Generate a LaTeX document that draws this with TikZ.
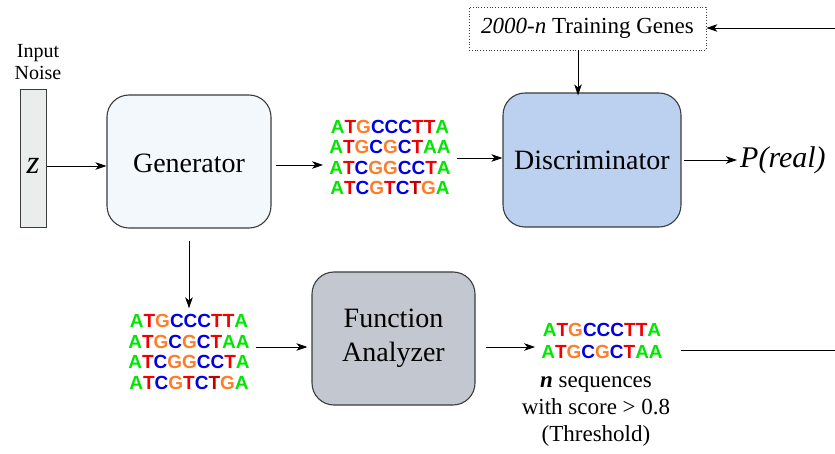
\documentclass[tikz,border=0pt]{standalone}
\usepackage{fontspec}
\setmainfont{Liberation Serif}
\newfontfamily\seqfont{Liberation Sans}
\usetikzlibrary{arrows.meta}
\definecolor{cA}{RGB}{0,230,0}
\definecolor{cT}{RGB}{240,0,0}
\definecolor{cTd}{RGB}{190,0,0}
\definecolor{cG}{RGB}{255,125,40}
\definecolor{cC}{RGB}{0,0,225}
\definecolor{zfill}{RGB}{233,237,236}
\definecolor{genfill}{RGB}{243,248,252}
\definecolor{discfill}{RGB}{188,208,239}
\definecolor{fafill}{RGB}{195,199,207}
\definecolor{edge}{RGB}{60,60,60}
\newcommand\qA{\textcolor{cA}{A}}
\newcommand\qT{\textcolor{cT}{T}}
\newcommand\qt{\textcolor{cTd}{T}}
\newcommand\qG{\textcolor{cG}{G}}
\newcommand\qC{\textcolor{cC}{C}}
\begin{document}
\begin{tikzpicture}[x=1pt,y=-1pt,
  arr/.style={-{Stealth[length=11pt,width=7.5pt,inset=3pt]},line width=0.9pt},
  plain/.style={line width=0.9pt},
  blockbox/.style={draw=edge,line width=1.1pt,rounded corners=22pt,font=\rmfamily\fontsize{28}{32}\selectfont,align=center},
  seqs/.style={font=\seqfont\bfseries\fontsize{19}{20.5}\selectfont,align=center,inner sep=6pt},
  lbl/.style={align=center}
]
\useasboundingbox (0,0) rectangle (835,454);
\node[lbl,font=\rmfamily\fontsize{20}{22}\selectfont] (noiselbl) at (38,62) {Input\\Noise};
\node[draw=edge,line width=1pt,fill=zfill,minimum width=26pt,minimum height=138pt,inner sep=0pt,text height=29pt,text depth=0pt,font=\rmfamily\fontsize{33}{33}\selectfont] (z) at (33,159) {\textit{z}};
\node[blockbox,fill=genfill,minimum width=164pt,minimum height=133pt,text height=24pt,text depth=2pt] (gen) at (189,161.5) {Generator};
\node[seqs] (seqa) at (390,157.5) {\qA\qT\qG\qC\qC\qC\qT\qT\qA\\\qA\qT\qG\qC\qG\qC\qT\qA\qA\\\qA\qT\qC\qG\qG\qC\qC\qT\qA\\\qA\qT\qC\qG\qT\qC\qt\qG\qA};
\node[blockbox,fill=discfill,minimum width=178pt,minimum height=134pt] (disc) at (592,160) {Discriminator};
\node[lbl,font=\rmfamily\fontsize{30}{30}\selectfont,anchor=west,inner sep=3pt] (preal) at (737,160) {\textit{P(real)}};
\node[draw=edge,dotted,line width=0.8pt,minimum width=237pt,minimum height=43pt,font=\rmfamily\fontsize{23}{26}\selectfont] (train) at (587.5,28.5) {\textit{2000-n} Training Genes};
\node[seqs] (seqb) at (189,352) {\qA\qT\qG\qC\qC\qC\qT\qT\qA\\\qA\qT\qG\qC\qG\qC\qT\qA\qA\\\qA\qT\qC\qG\qG\qC\qC\qT\qA\\\qA\qT\qC\qG\qT\qC\qt\qG\qA};
\node[blockbox,fill=fafill,minimum width=163pt,minimum height=133pt,font=\rmfamily\fontsize{28}{34}\selectfont] (fa) at (393.5,338.5) {Function\\Analyzer};
\node[seqs,font=\seqfont\bfseries\fontsize{19}{22}\selectfont] (seqc) at (602,341) {\qA\qT\qG\qC\qC\qC\qT\qT\qA\\\qA\qT\qG\qC\qG\qC\qT\qA\qA};
\node[lbl,font=\rmfamily\fontsize{23}{27}\selectfont] (cap) at (596,411) {\textbf{\textit{n}} sequences\\with score > 0.8\\(Threshold)};
\coordinate (rtop) at (835,28);
\coordinate (rbot) at (835,350);
\coordinate (xcol) at (578,0);
\coordinate (ya) at (0,166);
\coordinate (yb) at (0,165);
\coordinate (yc) at (0,158);
\coordinate (yd) at (0,160);
\coordinate (ye) at (0,347);
\coordinate (yf) at (0,350);
\draw[arr] (z.east |- ya) -- (gen.west |- ya);
\draw[arr,shorten <=4pt] (gen.east |- yb) -- (seqa.west |- yb);
\draw[arr] (seqa.east |- yc) -- (disc.west |- yc);
\draw[arr,shorten <=2pt] (disc.east |- yd) -- (preal.west |- yd);
\draw[arr] (rtop) -- (train.east |- rtop);
\draw[arr] (train.south -| xcol) -- ([yshift=-3pt]disc.north -| xcol);
\draw[arr,shorten <=12pt] (gen.south) -- (seqb.north);
\draw[arr,shorten >=4pt] (seqb.east |- ye) -- (fa.west |- ye);
\draw[arr,shorten <=10pt] (fa.east |- ye) -- (seqc.west |- ye);
\draw[plain,shorten <=12pt] (seqc.east |- yf) -- (rbot);
\end{tikzpicture}
\end{document}
